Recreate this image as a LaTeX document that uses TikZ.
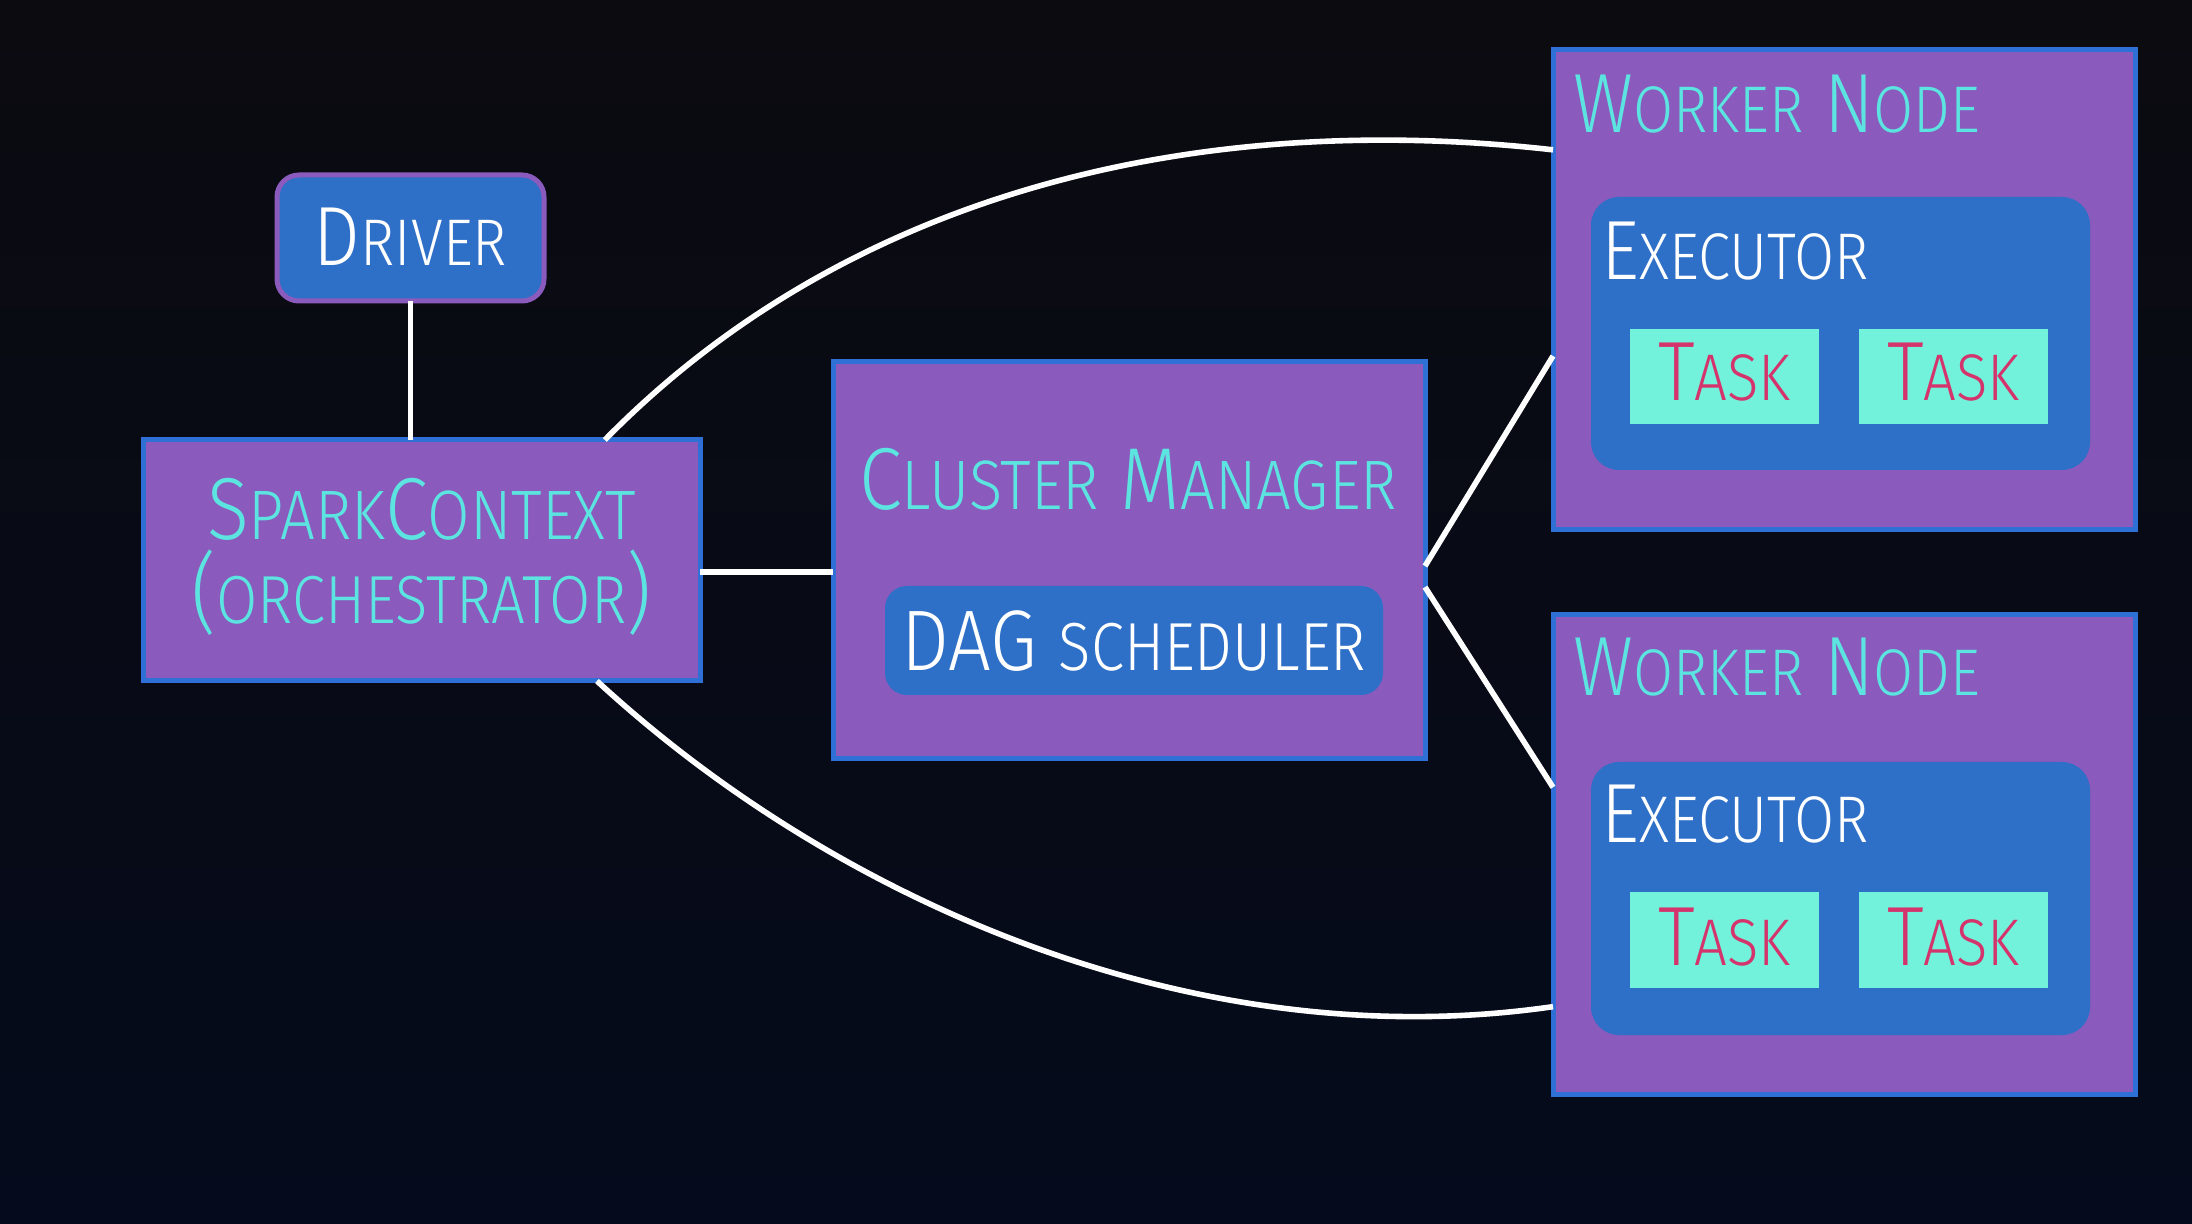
\documentclass[tikz,border=0pt]{standalone}
\usepackage{fontspec}
\setmainfont{Fira Sans Light}[FakeStretch=0.88]
\usetikzlibrary{calc}
\definecolor{bgtop}{HTML}{0B0B10}
\definecolor{bgbot}{HTML}{050B1C}
\definecolor{purp}{HTML}{8A5ABD}
\definecolor{blu}{HTML}{2E6FC7}
\definecolor{bord}{HTML}{2F70D6}
\definecolor{cyantxt}{HTML}{5CE5E0}
\definecolor{taskfill}{HTML}{73F2DB}
\definecolor{tasktxt}{HTML}{D5336C}
\newcommand\bigsz{\fontsize{42}{48}\selectfont}
\newcommand\smsz{\fontsize{33}{40}\selectfont}
\newcommand\scx[2]{{\bigsz #1}{\smsz #2}}
\newcommand\scy[2]{{\fontsize{44}{50}\selectfont #1}{\fontsize{35}{40}\selectfont #2}}
\tikzset{
  pbox/.style={draw=bord, line width=2.5pt, fill=purp, inner sep=0pt, outer sep=0pt},
  bbox/.style={fill=blu, rounded corners=11pt, inner sep=0pt, outer sep=0pt},
  drvbox/.style={draw=purp, line width=2.5pt, fill=blu, rounded corners=11pt, inner sep=0pt, outer sep=0pt},
  exbox/.style={fill=blu, rounded corners=14pt, inner sep=0pt, outer sep=0pt, minimum width=249.5pt, minimum height=136.5pt},
  taskbox/.style={fill=taskfill, inner sep=0pt, outer sep=0pt, minimum width=94.5pt, minimum height=47.5pt},
  wbox/.style={pbox, minimum width=291pt, minimum height=240pt},
  conn/.style={draw=white, line width=2.8pt},
  ctxt/.style={text=cyantxt, inner sep=0pt, font=\bigsz},
  wtxt/.style={text=white, inner sep=0pt, font=\bigsz},
  ttxt/.style={text=tasktxt, inner sep=0pt, font=\bigsz},
}
\begin{document}
\begin{tikzpicture}[x=0.5pt,y=-0.5pt]
\useasboundingbox (0,0) rectangle (2192,1224);
\shade[top color=bgtop,bottom color=bgbot] (0,0) rectangle (2192,1224);

% boxes
\node[drvbox, minimum width=133.5pt, minimum height=63pt] (drv) at (410.5,238) {};
\node[pbox, minimum width=278.5pt, minimum height=120.5pt] (sc) at (421.5,560.5) {};
\node[pbox, minimum width=296pt, minimum height=198.5pt] (cm) at (1129,560.5) {};
\node[bbox, minimum width=249pt, minimum height=54.5pt] (dag) at (1134,640.5) {};
\node[wbox] (w1) at (1844,290) {};
\node[exbox] (e1) at (1840.5,333.5) {};
\node[taskbox] (t1a) at (1724.5,376.5) {};
\node[taskbox] (t1b) at (1953.5,376.5) {};
\node[wbox] (w2) at (1844,854.5) {};
\node[exbox] (e2) at (1840.5,898.5) {};
\node[taskbox] (t2a) at (1724.5,940) {};
\node[taskbox] (t2b) at (1953.5,940) {};

% connector end points
\coordinate (lvl) at (0,572);
\coordinate (a1s) at ($(sc.north west)!0.829!(sc.north east)$);
\coordinate (a1e) at ($(w1.north west)!0.208!(w1.south west)$);
\coordinate (a2s) at ($(sc.south west)!0.815!(sc.south east)$);
\coordinate (a2e) at ($(w2.north west)!0.817!(w2.south west)$);
\coordinate (c1s) at ($(cm.north east)!0.514!(cm.south east)$);
\coordinate (c1e) at ($(w1.north west)!0.6375!(w1.south west)$);
\coordinate (c2s) at ($(cm.north east)!0.567!(cm.south east)$);
\coordinate (c2e) at ($(w2.north west)!0.36!(w2.south west)$);

% connectors
\draw[conn] (drv.south) -- (drv.south |- sc.north);
\draw[conn] (sc.east |- lvl) -- (cm.west |- lvl);
\draw[conn] (c1s) -- (c1e);
\draw[conn] (c2s) -- (c2e);
\draw[conn] (a1s) .. controls (850,190) and (1200,110) .. (a1e);
\draw[conn] (a2s) .. controls (840,905) and (1200,1058) .. (a2e);

% texts
\node[wtxt, anchor=base] (tdrv) at (410.5,266) {\scx{D}{RIVER}};
\node[ctxt, anchor=base] (tsc1) at (421.5,540) {\scy{S}{PARK}\scy{C}{ONTEXT}};
\node[ctxt, anchor=base] (tsc2) at (421.5,624) {{\fontsize{44}{50}\selectfont(}{\fontsize{34}{40}\selectfont ORCHESTRATOR}{\fontsize{44}{50}\selectfont)}};
\node[ctxt, anchor=base, font=\fontsize{44}{50}\selectfont] (tcm) at (1128,510) {\scy{C}{LUSTER} \scy{M}{ANAGER}};
\node[wtxt, anchor=base, font=\fontsize{43}{50}\selectfont] (tdag) at (1134,671) {DAG {\fontsize{34}{40}\selectfont SCHEDULER}};
\node[ctxt, anchor=base west] (tw1) at (1573,133) {\scx{W}{ORKER} \scx{N}{ODE}};
\node[wtxt, anchor=base west] (te1) at (1601,280) {\scx{E}{XECUTOR}};
\node[ttxt, anchor=base] (tt1a) at (1724.5,401) {\scx{T}{ASK}};
\node[ttxt, anchor=base] (tt1b) at (1953.5,401) {\scx{T}{ASK}};
\node[ctxt, anchor=base west] (tw2) at (1573,696) {\scx{W}{ORKER} \scx{N}{ODE}};
\node[wtxt, anchor=base west] (te2) at (1601,843) {\scx{E}{XECUTOR}};
\node[ttxt, anchor=base] (tt2a) at (1724.5,965) {\scx{T}{ASK}};
\node[ttxt, anchor=base] (tt2b) at (1953.5,965) {\scx{T}{ASK}};
\end{tikzpicture}
\end{document}
